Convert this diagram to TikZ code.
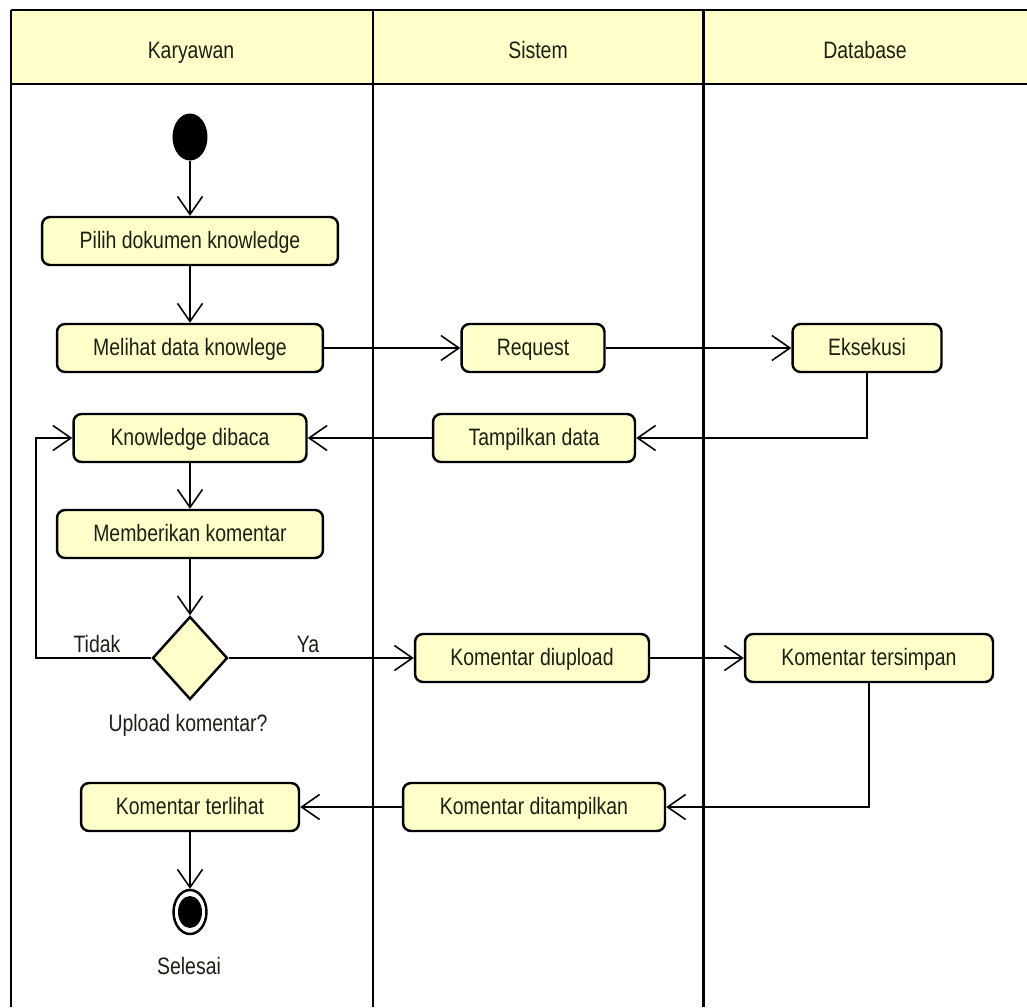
\documentclass[tikz,border=0pt]{standalone}
\usepackage{fontspec}
\setmainfont{Liberation Sans}[FakeStretch=0.82]
\usepackage{tikz}
\usetikzlibrary{arrows.meta}
\usetikzlibrary{shapes.geometric}

\definecolor{actfill}{RGB}{255,255,202}
\definecolor{ink}{RGB}{30,30,20}
\tikzset{
	txt/.style={text=ink,text height=8.5pt,text depth=0pt},
	action/.style={txt,draw,rounded corners=0.16cm,fill=actfill,line width=1.4pt,minimum height=0.96cm,inner sep=0pt},
	flow/.style={line width=0.9pt,-{Straight Barb[length=0.36cm,width=0.5cm,line width=0.9pt]}},
	lane/.style={line width=1.7pt},
}

\begin{document}
\begin{tikzpicture}[x=0.02cm,y=-0.02cm,font=\fontsize{13.5pt}{15pt}\selectfont]
	\useasboundingbox (0,0) rectangle (1027,1007);
	\fill[actfill] (11,10) rectangle (1027,84);
	\draw[lane] (11,10) -- (1027,10);
	\draw[lane] (11,84) -- (1027,84);
	\foreach \x in {11,373,703} {
		\draw[lane] (\x,10) -- (\x,1007);
	};
	\foreach \x/\name/\t in {191/karyawan/Karyawan,538/sistem/Sistem,865/database/Database} {
		\draw (\x,51) node (\name) [txt] {\t};
	};
	\draw (190,137) node (start) [ellipse,fill=black,minimum width=0.7cm,minimum height=0.94cm,inner sep=0pt] {};
	\draw (190,241) node (pilih) [action,minimum width=5.92cm] {Pilih dokumen knowledge};
	\draw (190,348) node (melihat) [action,minimum width=5.32cm] {Melihat data knowlege};
	\draw (533,348) node (request) [action,minimum width=2.86cm] {Request};
	\draw (867,348) node (eksekusi) [action,minimum width=2.98cm] {Eksekusi};
	\draw (190,438) node (dibaca) [action,minimum width=4.66cm] {Knowledge dibaca};
	\draw (534,438) node (tampilkan) [action,minimum width=4.04cm] {Tampilkan data};
	\draw (190,534) node (memberikan) [action,minimum width=5.32cm] {Memberikan komentar};
	\draw (190,658) node (dec) [diamond,draw,fill=actfill,line width=1.4pt,minimum width=1.5cm,minimum height=1.66cm,inner sep=0pt] {};
	\draw (532,658) node (diupload) [action,minimum width=4.68cm] {Komentar diupload};
	\draw (869,658) node (tersimpan) [action,minimum width=4.96cm] {Komentar tersimpan};
	\draw (534,807) node (ditampilkan) [action,minimum width=5.24cm] {Komentar ditampilkan};
	\draw (190,807) node (terlihat) [action,minimum width=4.36cm] {Komentar terlihat};
	\draw (190,912) node (stop) [ellipse,draw,line width=1.4pt,minimum width=0.66cm,minimum height=0.88cm,inner sep=0pt] {};
	\fill (stop.center) ellipse [x radius=0.24cm,y radius=0.32cm];
	\draw (97,645) node (tidak) [txt] {Tidak};
	\draw (308,645) node (ya) [txt] {Ya};
	\draw (188,724) node (tanya) [txt] {Upload komentar?};
	\draw (189,967) node (selesai) [txt] {Selesai};
	\coordinate (back) at (36,658);
	\draw[flow] (start) -- (pilih);
	\draw[flow] (pilih) -- (melihat);
	\draw[flow] (melihat) -- (request);
	\draw[flow] (request) -- (eksekusi);
	\draw[flow] (eksekusi.south) |- (tampilkan.east);
	\draw[flow] (tampilkan) -- (dibaca);
	\draw[flow] (dibaca) -- (memberikan);
	\draw[flow] (memberikan) -- (dec);
	\draw[flow] (dec.west) -- (back) |- (dibaca.west);
	\draw[flow] (dec) -- (diupload);
	\draw[flow] (diupload) -- (tersimpan);
	\draw[flow] (tersimpan.south) |- (ditampilkan.east);
	\draw[flow] (ditampilkan) -- (terlihat);
	\draw[flow] (terlihat) -- (stop);
\end{tikzpicture}
\end{document}
